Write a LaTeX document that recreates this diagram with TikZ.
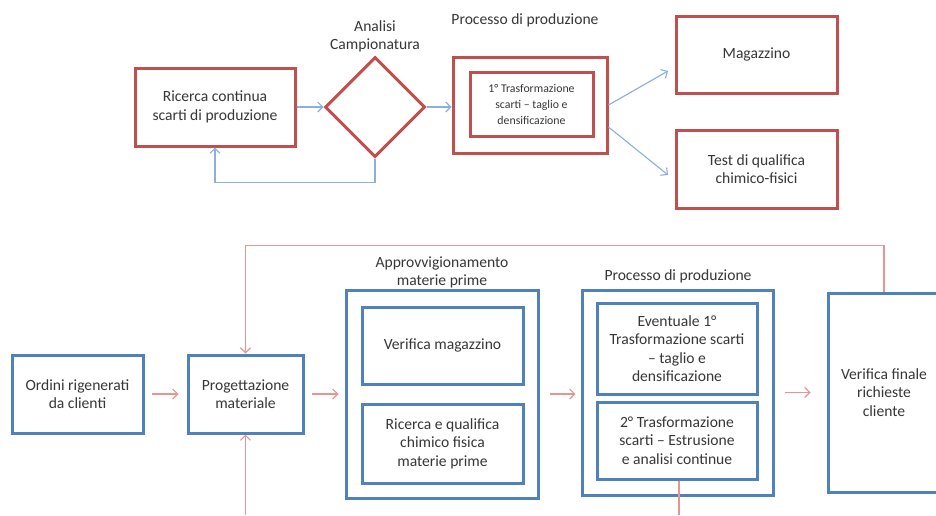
\documentclass[tikz,border=0pt]{standalone}
\usepackage{fontspec}
\setmainfont{Carlito}
\definecolor{BoxRed}{RGB}{192,80,77}
\definecolor{BoxBlue}{RGB}{79,129,189}
\definecolor{LinkBlue}{RGB}{140,175,220}
\definecolor{LinkRed}{RGB}{228,150,150}
\definecolor{TextGray}{RGB}{55,55,55}
\usetikzlibrary{positioning, arrows.meta, shapes.geometric, calc}

\begin{document}
\begin{tikzpicture}[x=1pt, y=-1pt, text=TextGray,
    redbox/.style={draw=BoxRed, line width=3pt, align=center, inner sep=2pt, font=\fontsize{15.6}{18.5}\selectfont},
    bluebox/.style={draw=BoxBlue, line width=3pt, align=center, inner sep=2pt, font=\fontsize{15.6}{18.5}\selectfont},
    smalltext/.style={font=\fontsize{11.8}{16}\selectfont},
    label/.style={align=center, font=\fontsize{15.6}{18}\selectfont},
    bluelink/.style={LinkBlue, line width=1.1pt, -{Straight Barb[length=5pt,width=10pt]}},
    redlink/.style={LinkRed, line width=1.1pt, -{Straight Barb[length=5pt,width=10pt]}}]
  \useasboundingbox (0,0) rectangle (936,515);
  \fill[white] (0,0) rectangle (936,515);

  % top: scrap research
  \node[redbox, minimum width=160pt, minimum height=78pt] (ric) at (215,107) {Ricerca continua\\scarti di produzione};
  \node[draw=BoxRed, line width=3pt, diamond, minimum width=100pt, minimum height=100pt, inner sep=0pt] (ana) at (375,107) {};
  \node[label] (analbl) at (375,36.5) {Analisi\\Campionatura};
  \node[redbox, minimum width=154pt, minimum height=96pt] (prodout) at (530,105) {};
  \node[redbox, smalltext, minimum width=123pt, minimum height=64pt] (trasf) at (531.5,104) {1° Trasformazione\\scarti – taglio e\\densificazione};
  \node[label] (prodlbl) at (525,20) {Processo di produzione};
  \node[redbox, minimum width=161pt, minimum height=77pt] (mag) at (756.5,54.5) {Magazzino};
  \node[redbox, minimum width=161pt, minimum height=78pt] (test) at (756.5,169) {Test di qualifica\\chimico-fisici};
  \coordinate (magtip) at (668,71);
  \coordinate (testtip) at (668,175);

  \draw[bluelink] (ric) -- (ana);
  \draw[bluelink] (ana.south) -- ++(0,24) -| (ric.south);
  \draw[bluelink] (ana.east) -- (ana.east -| prodout.west);
  \draw[bluelink] (prodout.east) -- (magtip);
  \draw[bluelink] ([yshift=-22pt]prodout.east) -- (testtip);

  % bottom: customer orders
  \node[bluebox, minimum width=131pt, minimum height=78pt] (ord) at (77.5,394) {Ordini rigenerati\\da clienti};
  \node[bluebox, minimum width=115pt, minimum height=78pt] (prog) at (245.5,394) {Progettazione\\materiale};
  \node[bluebox, minimum width=192pt, minimum height=208pt] (appr) at (442,394) {};
  \node[label] (apprlbl) at (442,272) {Approvvigionamento\\materie prime};
  \node[bluebox, minimum width=161pt, minimum height=77pt] (vmag) at (442.5,345.5) {Verifica magazzino};
  \node[bluebox, minimum width=161pt, minimum height=79pt] (qual) at (442.5,443.5) {Ricerca e qualifica\\chimico fisica\\materie prime};
  \node[bluebox, minimum width=191pt, minimum height=205pt] (proc) at (677.5,392.5) {};
  \node[label] (proclbl) at (678,276) {Processo di produzione};
  \node[bluebox, minimum width=160pt, minimum height=91pt] (trasfa) at (677,348.5) {Eventuale 1°\\Trasformazione scarti\\– taglio e\\densificazione};
  \node[bluebox, minimum width=160pt, minimum height=77pt] (trasfb) at (677,440.5) {2° Trasformazione\\scarti – Estrusione\\e analisi continue};
  \node[bluebox, minimum width=112pt, minimum height=199pt] (ver) at (884,392.5) {Verifica finale\\richieste\\cliente};
  \coordinate (progin) at (245.5,515);
  \coordinate (procout) at (679,515);

  \draw[redlink, shorten <=7pt, shorten >=8pt] (ord) -- (prog);
  \draw[redlink, shorten <=7pt, shorten >=6pt] (prog) -- (appr);
  \draw[redlink, shorten <=10pt, shorten >=5pt] (appr.east) -- (appr.east -| proc.west);
  \draw[redlink, shorten <=10pt, shorten >=16pt] (proc.east) -- (proc.east -| ver.west);
  \draw[redlink] (ver.north) -- ++(0,-46) -| (prog.north);
  \draw[redlink] (progin) -- (prog.south);
  \draw[LinkRed, line width=1.1pt] (trasfb.south -| procout) -- (procout);
\end{tikzpicture}
\end{document}
